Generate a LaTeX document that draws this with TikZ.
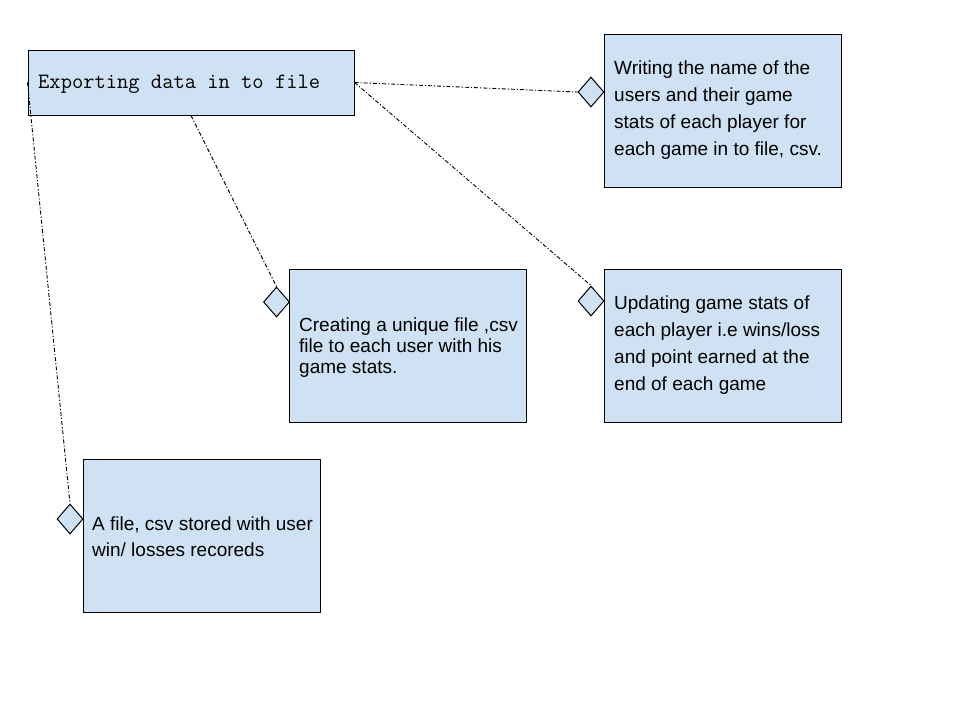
\documentclass[tikz,border=0pt]{standalone}
\usepackage{fontspec}
\setmainfont{Liberation Sans}
\newfontfamily\titlefont{Latin Modern Mono}
\usetikzlibrary{shapes.geometric}
\definecolor{boxblue}{HTML}{CFE2F3}
\begin{document}
\begin{tikzpicture}[x=1pt,y=-1pt,
  box/.style={draw=black,fill=boxblue,line width=1pt,rectangle,inner sep=0pt,
    minimum width=237pt,minimum height=153pt},
  dmd/.style={draw=black,fill=boxblue,line width=1pt,diamond,inner sep=0pt,
    minimum width=26pt,minimum height=30pt},
  txt/.style={anchor=west,align=left,inner sep=0pt,font=\fontsize{19}{27}\selectfont},
  conn/.style={draw=black,line width=0.9pt,dash pattern={on 4pt off 2pt on 1.2pt off 2pt}}]
\useasboundingbox (0,0) rectangle (960,720);
\fill[white] (0,0) rectangle (960,720);
% title box
\node[draw=black,fill=boxblue,line width=1pt,rectangle,inner sep=0pt,
  minimum width=326pt,minimum height=65pt] (A) at (191,82.5) {};
\node[anchor=west,inner sep=0pt,font=\titlefont\fontsize{21.9}{24}\selectfont] (tA) at (38,84) {Exporting data in to file};
% boxes
\node[box] (W) at (722.5,110.5) {};
\node[txt] (tW) at (614,110.5) {Writing the name of the\\users and their game\\stats of each player for\\each game in to file, csv.};
\node[box] (C) at (408,345.5) {};
\node[txt,font=\fontsize{19}{21}\selectfont] (tC) at (299,347.5) {Creating a unique file ,csv\\file to each user with his\\game stats.};
\node[box] (U) at (722.5,345.5) {};
\node[txt] (tU) at (614,345) {Updating game stats of\\each player i.e wins/loss\\and point earned at the\\end of each game};
\node[box] (F) at (201.5,536) {};
\node[txt,font=\fontsize{19}{26}\selectfont] (tF) at (92,536.5) {A file, csv stored with user\\win/ losses recoreds};
% diamonds
\node[dmd] (d1) at (591,92) {};
\node[dmd] (d2) at (276.5,302) {};
\node[dmd] (d3) at (591,301) {};
\node[dmd] (d4) at (70,519) {};
% connectors
\draw[conn] (A.east) -- (d1.west);
\draw[conn] (A.east) -- (d3.north);
\draw[conn] (A.south) -- (d2.north);
\draw[conn] (A.west) -- (d4.north);
\end{tikzpicture}
\end{document}
